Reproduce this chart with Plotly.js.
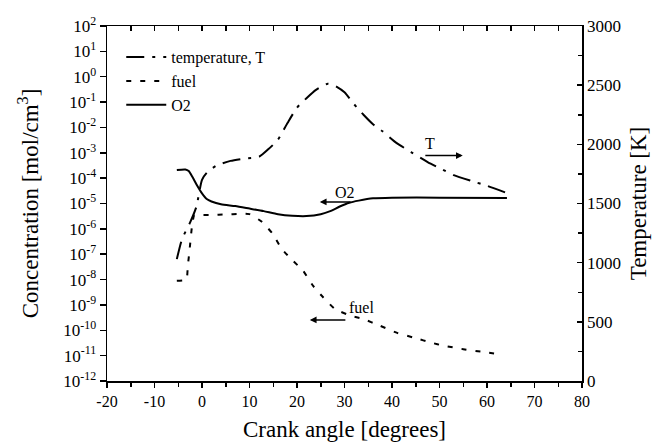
<!DOCTYPE html>
<html>
<head>
<meta charset="utf-8">
<script src="https://cdn.plot.ly/plotly-3.0.1.min.js"></script>
<style>
  html, body { margin: 0; padding: 0; background: #fff; }
  #chart { width: 652px; height: 444px; }
</style>
</head>
<body>
<div id="chart"></div>
<script>
// ---- Data ----
// Temperature, T [K] (right axis)
var tempX = [-5.3, -4.2, -2.5, -1.2, 0, 1, 3, 6, 9, 12, 14, 16, 18, 20, 22, 24, 26.5, 28, 30, 32, 34, 36, 38, 41, 44, 47.5, 50, 53, 57, 60, 63.8];
var tempY = [1030, 1200, 1340, 1470, 1700, 1760, 1820, 1860, 1880, 1895, 1960, 2040, 2180, 2310, 2390, 2460, 2512, 2495, 2440, 2340, 2250, 2170, 2110, 2010, 1935, 1850, 1800, 1740, 1687, 1650, 1594];

// Fuel concentration [mol/cm3] (left, log axis)
var fuelX = [-5.3, -3.3, -3.0, -2.6, -2.1, -1.6, 0, 2, 5, 8, 10, 12.6, 14.9, 16.8, 19.2, 21.3, 23.4, 25.5, 28, 31.6, 33.9, 37.5, 41.1, 44.8, 48.4, 50.7, 55, 59.2, 63.4];
var fuelY = [8.9e-9, 1.0e-8, 3.2e-8, 1.6e-7, 1.3e-6, 3.5e-6, 3.5e-6, 3.5e-6, 3.7e-6, 3.9e-6, 3.8e-6, 1.9e-6, 6.3e-7, 1.6e-7, 5.4e-8, 2.2e-8, 5.6e-9, 2.0e-9, 6.9e-10, 3.6e-10, 2.8e-10, 1.5e-10, 7.9e-11, 5.0e-11, 3.2e-11, 2.5e-11, 1.8e-11, 1.4e-11, 1.1e-11];

// O2 concentration [mol/cm3] (left, log axis)
var o2X = [-5.3, -3.5, -2.8, -2.0, -1.0, 0, 1, 2, 4, 7, 10, 13, 16, 19, 22, 25, 27, 29, 31, 33, 36, 40, 50, 64.2];
var o2Y = [2.1e-4, 2.2e-4, 1.9e-4, 1.1e-4, 5.0e-5, 2.5e-5, 1.5e-5, 1.2e-5, 9.3e-6, 7.9e-6, 6.3e-6, 5.0e-6, 3.8e-6, 3.3e-6, 3.2e-6, 3.8e-6, 5.0e-6, 7.6e-6, 1.07e-5, 1.3e-5, 1.6e-5, 1.7e-5, 1.7e-5, 1.66e-5];

// Tick labels
var xTickVals = [-20, -10, 0, 10, 20, 30, 40, 50, 60, 70, 80];
var xTickText = ['-20', '-10', '0', '10', '20', '30', '40', '50', '60', '70', '80'];
var concTickVals = [1e-12, 1e-11, 1e-10, 1e-9, 1e-8, 1e-7, 1e-6, 1e-5, 1e-4, 1e-3, 1e-2, 1e-1, 1e0, 1e1, 1e2];
var concTickText = ['10<sup>-12</sup>', '10<sup>-11</sup>', '10<sup>-10</sup>', '10<sup>-9</sup>', '10<sup>-8</sup>', '10<sup>-7</sup>', '10<sup>-6</sup>', '10<sup>-5</sup>', '10<sup>-4</sup>', '10<sup>-3</sup>', '10<sup>-2</sup>', '10<sup>-1</sup>', '10<sup>0</sup>', '10<sup>1</sup>', '10<sup>2</sup>'];
var tempTickVals = [0, 500, 1000, 1500, 2000, 2500, 3000];

// Curve labels with arrows
var labelNames = ['T', 'O2', 'fuel'];
var labelX = [48.0, 30.1, 33.6];
var labelY = [2011, -4.55, -9.12];
var arrowTail = [46.7, 31.6, 30.5];
var arrowHead = [54.9, 24.8, 22.7];
var arrowY = [1905, -4.94, -9.59];
var labelAxis = ['y2', 'y', 'y'];

var FONT = "'Liberation Serif', 'Times New Roman', serif";

var traces = [
  { x: tempX, y: tempY, name: 'temperature, T', type: 'scatter', mode: 'lines',
    xaxis: 'x', yaxis: 'y2', line: { color: '#000', width: 2, dash: '18px,8px,3px,8px', shape: 'spline', smoothing: 0.6 } },
  { x: fuelX, y: fuelY, name: 'fuel', type: 'scatter', mode: 'lines',
    xaxis: 'x', yaxis: 'y', line: { color: '#000', width: 2, dash: '5px,9px', shape: 'spline', smoothing: 0.5 } },
  { x: o2X, y: o2Y, name: 'O2', type: 'scatter', mode: 'lines',
    xaxis: 'x', yaxis: 'y', line: { color: '#000', width: 2, shape: 'spline', smoothing: 0.6 } },
  { x: [null], y: [null], xaxis: 'x2', yaxis: 'y', showlegend: false, hoverinfo: 'skip', mode: 'lines' }
];

var annotations = [];
for (var i = 0; i < labelNames.length; i++) {
  annotations.push({
    text: labelNames[i], x: labelX[i], y: labelY[i], xref: 'x', yref: labelAxis[i],
    showarrow: false, font: { family: FONT, size: 16, color: '#000' }
  });
  annotations.push({
    text: '', x: arrowHead[i], y: arrowY[i], ax: arrowTail[i], ay: arrowY[i],
    xref: 'x', yref: labelAxis[i], axref: 'x', ayref: labelAxis[i],
    showarrow: true, arrowhead: 2, arrowsize: 0.9, arrowwidth: 1.5, arrowcolor: '#000', standoff: 0
  });
}

var layout = {
  width: 652, height: 444,
  margin: { l: 107, r: 70, t: 26, b: 63 },
  paper_bgcolor: '#fff', plot_bgcolor: '#fff',
  font: { family: FONT, color: '#000' },
  showlegend: true,
  legend: { x: 0.03, y: 0.96, xanchor: 'left', yanchor: 'top', bgcolor: 'rgba(0,0,0,0)',
            font: { family: FONT, size: 16, color: '#000' }, tracegroupgap: 0, itemwidth: 40 },
  xaxis: {
    range: [-20, 80], tickvals: xTickVals, ticktext: xTickText, ticks: 'outside', ticklen: 5, tickwidth: 1.5, tickcolor: '#000',
    minor: { dtick: 5, tick0: 0, ticks: 'outside', ticklen: 4, tickwidth: 1.5, tickcolor: '#000' },
    showline: true, linewidth: 1.5, linecolor: '#000', showgrid: false, zeroline: false,
    tickfont: { family: FONT, size: 16, color: '#000' },
    title: { text: 'Crank angle [degrees]', font: { family: FONT, size: 23, color: '#000' }, standoff: 12 }
  },
  xaxis2: {
    overlaying: 'x', side: 'top', anchor: 'y', range: [-20, 80], dtick: 5, tick0: 0,
    ticks: 'inside', ticklen: 5, tickwidth: 1.5, tickcolor: '#000', showticklabels: false,
    showline: true, linewidth: 1.5, linecolor: '#000', showgrid: false, zeroline: false
  },
  yaxis: {
    type: 'log', range: [-12, 2], tickvals: concTickVals, ticktext: concTickText,
    ticks: 'outside', ticklen: 6, tickwidth: 1.5, tickcolor: '#000',
    showline: true, linewidth: 1.5, linecolor: '#000', showgrid: false, zeroline: false,
    tickfont: { family: FONT, size: 17, color: '#000' },
    title: { text: 'Concentration [mol/cm<sup>3</sup>]', font: { family: FONT, size: 23, color: '#000' }, standoff: 18 }
  },
  yaxis2: {
    overlaying: 'y', side: 'right', anchor: 'x', range: [0, 3000], tickvals: tempTickVals,
    ticks: 'inside', ticklen: 5, tickwidth: 1.5, tickcolor: '#000',
    minor: { dtick: 250, tick0: 0, ticks: 'inside', ticklen: 4, tickwidth: 1.5, tickcolor: '#000' },
    showline: true, linewidth: 1.5, linecolor: '#000', showgrid: false, zeroline: false,
    tickfont: { family: FONT, size: 17, color: '#000' },
    title: { text: 'Temperature [K]', font: { family: FONT, size: 23, color: '#000' }, standoff: 10 }
  },
  annotations: annotations
};

Plotly.newPlot('chart', traces, layout, { displayModeBar: false, staticPlot: true });
</script>
</body>
</html>
